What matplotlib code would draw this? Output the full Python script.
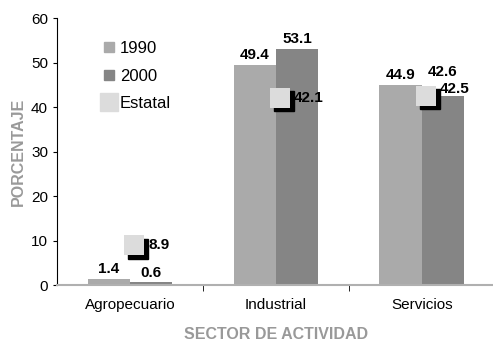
import matplotlib.pyplot as plt
from matplotlib.lines import Line2D
from matplotlib.transforms import offset_copy
import numpy as np

plt.rcParams['font.family'] = ['Liberation Sans', 'DejaVu Sans']

sectores = ['Agropecuario', 'Industrial', 'Servicios']
v1990 = [1.4, 49.4, 44.9]
v2000 = [0.6, 53.1, 42.6]
estatal = [8.9, 42.1, 42.5]

c1990 = '#aaaaaa'
c2000 = '#858585'
cest = '#dcdcdc'
cgris = '#999999'

fig = plt.figure(figsize=(4.93, 3.41), dpi=100)
ax = fig.add_axes([0.1156, 0.164, 0.888, 0.783])

x = np.arange(len(sectores))
w = 0.29
ax.bar(x - w / 2, v1990, w, color=c1990, zorder=2)
ax.bar(x + w / 2, v2000, w, color=c2000, zorder=2)

# etiquetas sobre las barras (la de Servicios 2000 va algo más arriba)
up2000 = [2, 2, 12]
for xi, v in zip(x - w / 2, v1990):
    ax.annotate(f'{v}', (xi, v), xytext=(0, 2), textcoords='offset points',
                ha='center', va='bottom', fontsize=11, fontweight='bold')
for xi, v, dy in zip(x + w / 2, v2000, up2000):
    ax.annotate(f'{v}', (xi, v), xytext=(0, dy), textcoords='offset points',
                ha='center', va='bottom', fontsize=11, fontweight='bold')

# marcador estatal con sombra negra
xe = x + 0.03
sombra = offset_copy(ax.transData, fig=fig, x=2.5, y=-2.5, units='points')
ax.plot(xe, estatal, 's', color='black', markersize=14, transform=sombra,
        linestyle='none', zorder=3)
ax.plot(xe, estatal, 's', color=cest, markersize=14, markeredgewidth=0,
        linestyle='none', zorder=4)
upest = [0, 0, 5]
for xi, v, dy in zip(xe, estatal, upest):
    ax.annotate(f'{v}', (xi, v), xytext=(10, dy), textcoords='offset points',
                ha='left', va='center', fontsize=11, fontweight='bold', zorder=5)

ax.set_xlim(-0.5, 2.5)
ax.set_ylim(0, 60)
ax.set_yticks(range(0, 61, 10))
ax.set_xticks(x)
ax.set_xticklabels(sectores, fontsize=11)
ax.tick_params(axis='x', length=0, pad=9)
ax.tick_params(axis='y', labelsize=11, length=3, direction='out')
ax.set_xticks([0.5, 1.5], minor=True)
ax.tick_params(axis='x', which='minor', length=4, direction='out', color='black')

ax.spines['top'].set_visible(False)
ax.spines['right'].set_visible(False)
ax.spines['bottom'].set_color('#b0b0b0')
ax.spines['bottom'].set_linewidth(1.5)
ax.spines['left'].set_linewidth(0.8)

ax.set_ylabel('PORCENTAJE', color=cgris, fontweight='bold', fontsize=11.5, labelpad=4)
ax.set_xlabel('SECTOR DE ACTIVIDAD', color=cgris, fontweight='bold', fontsize=11.5, labelpad=11)

handles = [
    Line2D([], [], marker='s', color=c1990, linestyle='none', markersize=7.5),
    Line2D([], [], marker='s', color=c2000, linestyle='none', markersize=7.5),
    Line2D([], [], marker='s', color=cest, linestyle='none', markersize=13),
]
ax.legend(handles, ['1990', '2000', 'Estatal'], loc='upper left',
          bbox_to_anchor=(0.06, 0.97), frameon=False, fontsize=12,
          handletextpad=0.0, labelspacing=0.75, handlelength=1.3)

fig.savefig('out.png', dpi=100)
